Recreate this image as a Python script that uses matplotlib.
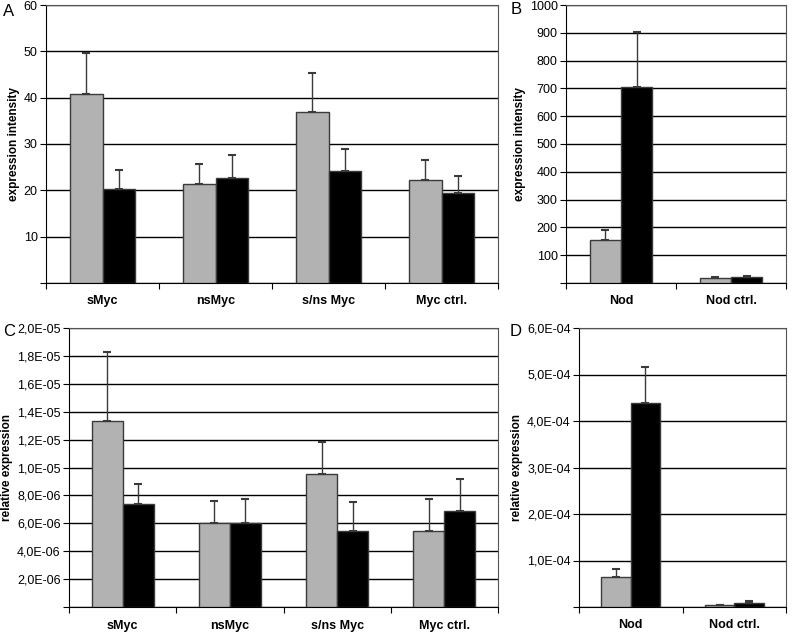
import matplotlib
matplotlib.use("Agg")
import matplotlib.pyplot as plt
import numpy as np

plt.rcParams['font.family'] = ['Liberation Sans', 'DejaVu Sans']

# panel A - expression intensity (Myc)
myc_cats = ['sMyc', 'nsMyc', 's/ns Myc', 'Myc ctrl.']
a_gray = [40.8, 21.3, 36.9, 22.3]
a_gray_err = [8.9, 4.3, 8.4, 4.3]
a_black = [20.3, 22.6, 24.1, 19.4]
a_black_err = [4.0, 5.0, 4.8, 3.6]

# panel B - expression intensity (Nod)
nod_cats = ['Nod', 'Nod ctrl.']
b_gray = [155, 18]
b_gray_err = [36, 4]
b_black = [704, 22]
b_black_err = [200, 4]

# panel C - relative expression (Myc)
c_gray = [1.335e-5, 6.0e-6, 9.55e-6, 5.45e-6]
c_gray_err = [4.95e-6, 1.6e-6, 2.3e-6, 2.3e-6]
c_black = [7.35e-6, 6.0e-6, 5.45e-6, 6.85e-6]
c_black_err = [1.5e-6, 1.75e-6, 2.05e-6, 2.3e-6]

# panel D - relative expression (Nod)
d_gray = [6.5e-5, 5e-6]
d_gray_err = [1.6e-5, 0]
d_black = [4.39e-4, 8e-6]
d_black_err = [7.8e-5, 5e-6]

a_ticks = [0, 10, 20, 30, 40, 50, 60]
a_labels = ['', '10', '20', '30', '40', '50', '60']
b_ticks = [0, 100, 200, 300, 400, 500, 600, 700, 800, 900, 1000]
b_labels = ['', '100', '200', '300', '400', '500', '600', '700', '800', '900', '1000']
c_ticks = [0, 2e-6, 4e-6, 6e-6, 8e-6, 1e-5, 1.2e-5, 1.4e-5, 1.6e-5, 1.8e-5, 2e-5]
c_labels = ['', '2,0E-06', '4,0E-06', '6,0E-06', '8,0E-06', '1,0E-05',
            '1,2E-05', '1,4E-05', '1,6E-05', '1,8E-05', '2,0E-05']
d_ticks = [0, 1e-4, 2e-4, 3e-4, 4e-4, 5e-4, 6e-4]
d_labels = ['', '1,0E-04', '2,0E-04', '3,0E-04', '4,0E-04', '5,0E-04', '6,0E-04']

W, H = 797, 632
fig = plt.figure(figsize=(W / 100, H / 100), dpi=100)

def ax_at(x0, y0, x1, y1):
    return fig.add_axes([x0 / W, 1 - y1 / H, (x1 - x0) / W, (y1 - y0) / H])

def panel(ax, cats, gray, gerr, black, berr, ymax, ticks, labels, ylabel, bw):
    x = np.arange(len(cats))
    ax.bar(x - bw / 2, gray, bw, color='#b2b2b2', edgecolor='#3a3a3a', lw=1, zorder=3)
    ax.bar(x + bw / 2, black, bw, color='black', edgecolor='#3a3a3a', lw=1, zorder=3)
    ax.errorbar(x - bw / 2, gray, yerr=[np.zeros(len(x)), gerr], fmt='none',
                ecolor='#3a3a3a', elinewidth=1, capsize=3, capthick=1.5, zorder=4)
    ax.errorbar(x + bw / 2, black, yerr=[np.zeros(len(x)), berr], fmt='none',
                ecolor='#3a3a3a', elinewidth=1, capsize=3, capthick=1.5, zorder=4)
    ax.set_xlim(-0.5, len(cats) - 0.5)
    ax.set_ylim(0, ymax)
    ax.set_yticks(ticks)
    ax.set_yticklabels(labels, fontsize=9)
    ax.yaxis.grid(True, color='black', lw=1, zorder=0)
    ax.set_xticks(np.arange(len(cats) + 1) - 0.5)
    ax.set_xticklabels([])
    ax.set_xticks(x, minor=True)
    ax.set_xticklabels(cats, minor=True, fontsize=9, fontweight='bold')
    ax.tick_params(axis='x', which='minor', length=0, pad=9)
    ax.tick_params(axis='x', which='major', length=4, direction='out')
    ax.tick_params(axis='y', length=4, direction='out', pad=2)
    for s in ['top', 'right']:
        ax.spines[s].set_color('#555555')
    ax.set_ylabel(ylabel, fontsize=8.5, fontweight='bold', labelpad=3)

axA = ax_at(46, 5, 498, 283)
panel(axA, myc_cats, a_gray, a_gray_err, a_black, a_black_err, 60,
      a_ticks, a_labels, 'expression intensity', 0.29)

axB = ax_at(566, 5, 786, 283)
panel(axB, nod_cats, b_gray, b_gray_err, b_black, b_black_err, 1000,
      b_ticks, b_labels, 'expression intensity', 0.285)

axC = ax_at(69, 328, 498, 607)
panel(axC, myc_cats, c_gray, c_gray_err, c_black, c_black_err, 2e-5,
      c_ticks, c_labels, 'relative expression', 0.29)

axD = ax_at(579, 328, 786, 607)
panel(axD, nod_cats, d_gray, d_gray_err, d_black, d_black_err, 6e-4,
      d_ticks, d_labels, 'relative expression', 0.285)

for lab, px, py in [('A', 3, 12), ('B', 511, 10), ('C', 3, 331), ('D', 510, 331)]:
    fig.text(px / W, 1 - py / H, lab, fontsize=12, va='center', ha='left')

fig.savefig('out.png', dpi=100)
